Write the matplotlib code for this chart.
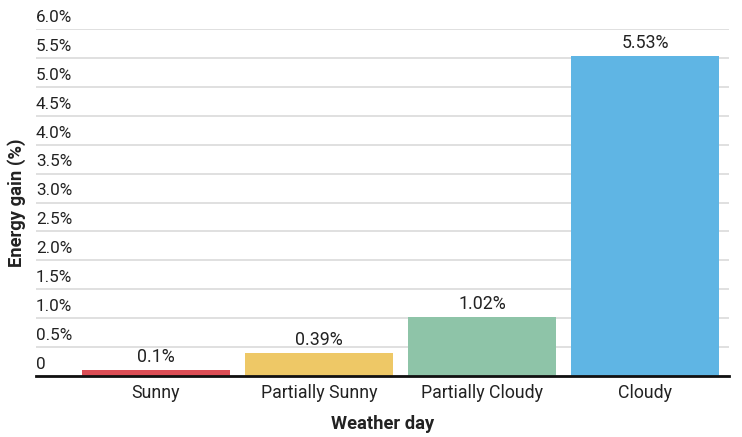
import matplotlib
matplotlib.use("Agg")
import matplotlib.pyplot as plt
from matplotlib.transforms import ScaledTranslation

categories = ["Sunny", "Partially Sunny", "Partially Cloudy", "Cloudy"]
values = [0.1, 0.39, 1.02, 5.53]
value_labels = ["0.1%", "0.39%", "1.02%", "5.53%"]
colors = ["#DB4D55", "#EEC866", "#8EC4A8", "#5FB5E4"]
yticks = [0, 0.5, 1.0, 1.5, 2.0, 2.5, 3.0, 3.5, 4.0, 4.5, 5.0, 5.5, 6.0]
ytick_labels = ["0", "0.5%", "1.0%", "1.5%", "2.0%", "2.5%", "3.0%", "3.5%",
                "4.0%", "4.5%", "5.0%", "5.5%", "6.0%"]

plt.rcParams["font.family"] = ["Roboto", "DejaVu Sans"]
text_color = "#222222"

fig = plt.figure(figsize=(7.42, 4.37), dpi=100)
ax = fig.add_axes([0.0485, 0.1396, 0.934, 0.794])

x = list(range(len(categories)))
bars = ax.bar(x, values, width=0.908, color=colors, zorder=3)

for xi, v, lab in zip(x, values, value_labels):
    ax.annotate(lab, (xi, v), xytext=(0, 3), textcoords="offset points",
                ha="center", va="bottom", fontsize=12.8, color=text_color, zorder=4)

ax.set_xlim(-0.736, 3.515)
ax.set_ylim(0, 6.0)
ax.set_yticks(yticks)
ax.set_yticklabels(ytick_labels)
ax.set_xticks(x)
ax.set_xticklabels(categories)

ax.grid(axis="y", color="#DDDDDD", linewidth=1.3, zorder=0)
ax.set_axisbelow(True)
for s in ["top", "right", "left"]:
    ax.spines[s].set_visible(False)
ax.spines["bottom"].set_color("#111111")
ax.spines["bottom"].set_linewidth(2.0)
ax.spines["bottom"].set_zorder(5)

ax.tick_params(axis="y", length=0, pad=0, labelsize=12.3, labelcolor=text_color)
ax.tick_params(axis="x", length=0, pad=6, labelsize=12.8, labelcolor=text_color)
offset = ScaledTranslation(0, 3 / 72, fig.dpi_scale_trans)
for lab in ax.get_yticklabels():
    lab.set_horizontalalignment("left")
    lab.set_verticalalignment("bottom")
    lab.set_transform(lab.get_transform() + offset)

ax.set_xlabel("Weather day", fontsize=13.2, fontweight="bold", color=text_color, labelpad=9)
ax.set_ylabel("Energy gain (%)", fontsize=13.2, fontweight="bold", color=text_color)
ax.yaxis.set_label_coords(-0.014, 0.5)

fig.savefig("out.png", dpi=100)
